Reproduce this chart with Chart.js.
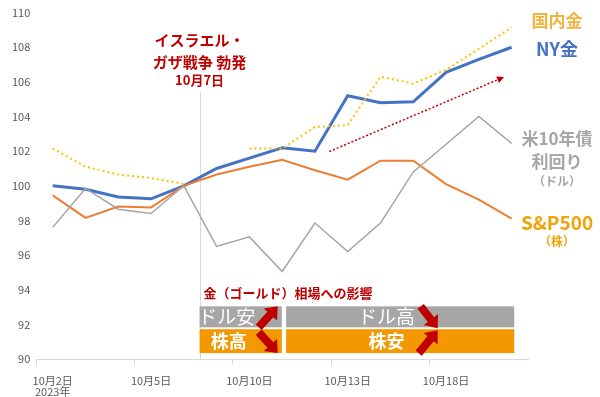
<!DOCTYPE html>
<html><head><meta charset="utf-8">
<script src="https://cdn.jsdelivr.net/npm/chart.js@4.4.0/dist/chart.umd.min.js"></script>
<style>html,body{margin:0;padding:0;background:#fff}</style>
</head><body>
<canvas id="c" width="600" height="397" style="width:600px;height:397px;display:block"></canvas>
<script>
// ---- data ----
const categories = ['10月2日','10月3日','10月4日','10月5日','10月6日','10月9日','10月10日','10月11日','10月12日','10月13日','10月16日','10月17日','10月18日','10月19日','10月20日'];
const nyGold       = [100.0, 99.8, 99.35, 99.25, 100.0, 101.0, 101.6, 102.2, 102.0, 105.2, 104.8, 104.85, 106.55, 107.3, 108.0];
const domesticGold = [102.15, 101.1, 100.65, 100.45, 100.1, null, 102.15, 102.15, 103.4, 103.5, 106.3, 105.9, 106.7, 107.9, 109.15];
const sp500        = [99.45, 98.15, 98.8, 98.75, 100.0, 100.65, 101.1, 101.5, 100.9, 100.35, 101.45, 101.45, 100.1, 99.2, 98.1];
const us10y        = [97.6, 99.85, 98.65, 98.4, 100.0, 96.5, 97.05, 95.05, 97.85, 96.2, 97.85, 100.8, 102.4, 104.0, 102.45];
const yMin = 90, yMax = 110, yStep = 2;
const yearLabel = '2023年';
const tickEvery = 3;

const FONT = "'Noto Sans CJK JP','Noto Sans',sans-serif";
const RED = '#C00000';

function arrow(ctx, x1, y1, x2, y2, shaft, headW, headL, color) {
  const dx = x2 - x1, dy = y2 - y1, L = Math.hypot(dx, dy);
  const ux = dx / L, uy = dy / L, nx = -uy, ny = ux;
  const bx = x2 - ux * headL, by = y2 - uy * headL;
  ctx.beginPath();
  ctx.moveTo(x1 + nx * shaft / 2, y1 + ny * shaft / 2);
  ctx.lineTo(bx + nx * shaft / 2, by + ny * shaft / 2);
  ctx.lineTo(bx + nx * headW / 2, by + ny * headW / 2);
  ctx.lineTo(x2, y2);
  ctx.lineTo(bx - nx * headW / 2, by - ny * headW / 2);
  ctx.lineTo(bx - nx * shaft / 2, by - ny * shaft / 2);
  ctx.lineTo(x1 - nx * shaft / 2, y1 - ny * shaft / 2);
  ctx.closePath();
  ctx.fillStyle = color;
  ctx.fill();
}

const annot = {
  id: 'annot',
  beforeDatasetsDraw(chart) {
    const {ctx, scales: {x, y}, chartArea} = chart;
    const ex = x.getPixelForValue(4.48);
    ctx.save();
    ctx.strokeStyle = '#D9D9D9';
    ctx.lineWidth = 1;
    ctx.beginPath();
    ctx.moveTo(Math.round(ex) + 0.5, y.getPixelForValue(105.4));
    ctx.lineTo(Math.round(ex) + 0.5, chartArea.bottom);
    ctx.stroke();
    ctx.restore();
  },
  afterDatasetsDraw(chart) {
    const {ctx, scales: {x, y}, chartArea} = chart;
    const px = v => x.getPixelForValue(v);
    const py = v => y.getPixelForValue(v);
    ctx.save();
    // event text
    ctx.fillStyle = RED;
    ctx.textAlign = 'center';
    ctx.textBaseline = 'middle';
    const ex = px(4.48);
    ctx.font = 'bold 15px ' + FONT;
    ctx.fillText('イスラエル・', ex, py(108.4));
    ctx.fillText('ガザ戦争 勃発', ex, py(107.13));
    ctx.font = 'bold 13px ' + FONT;
    ctx.fillText('10月7日', ex, py(106.1));

    // trend arrow (dotted)
    const tx1 = px(8.44), ty1 = py(101.98), tx2 = px(13.77), ty2 = py(106.28);
    ctx.strokeStyle = RED;
    ctx.lineWidth = 1.5;
    ctx.setLineDash([2, 2]);
    const ang = Math.atan2(ty2 - ty1, tx2 - tx1);
    ctx.beginPath();
    ctx.moveTo(tx1, ty1);
    ctx.lineTo(tx2 - Math.cos(ang) * 5, ty2 - Math.sin(ang) * 5);
    ctx.stroke();
    ctx.setLineDash([]);
    arrow(ctx, tx2 - Math.cos(ang) * 7, ty2 - Math.sin(ang) * 7, tx2, ty2, 0.1, 7, 7, RED);

    // impact panel
    ctx.textAlign = 'left';
    ctx.font = 'bold 13px ' + FONT;
    ctx.fillStyle = RED;
    ctx.fillText('金（ゴールド）相場への影響', px(4.6), py(93.78));

    const GRAY = '#A6A6A6', ORANGE = '#F39800';
    const rows = [{top: 93.04, bot: 91.83, color: GRAY}, {top: 91.72, bot: 90.34, color: ORANGE}];
    const cells = [{l: 4.48, r: 6.99}, {l: 7.12, r: 14.08}];
    rows.forEach(rw => cells.forEach(c => {
      ctx.fillStyle = rw.color;
      ctx.fillRect(px(c.l), py(rw.top), px(c.r) - px(c.l), py(rw.bot) - py(rw.top));
    }));
    const r1c = (py(93.04) + py(91.83)) / 2, r2c = (py(91.72) + py(90.34)) / 2;
    ctx.fillStyle = '#FFFFFF';
    ctx.textAlign = 'center';
    ctx.font = '19px ' + FONT;
    ctx.fillText('ドル安', px(5.31), r1c);
    ctx.fillText('ドル高', px(10.18), r1c);
    ctx.font = 'bold 18px ' + FONT;
    ctx.fillText('株高', px(5.37), r2c);
    ctx.fillText('株安', px(10.18), r2c);

    // block arrows
    const arrowCols = [6.56, 11.47];
    const r1t = py(93.04), r1b = py(91.83), r2t = py(91.72), r2b = py(90.34);
    let ax = px(arrowCols[0]);
    arrow(ctx, ax - 9, r1b, ax + 10, r1t, 8, 18, 11, RED);
    arrow(ctx, ax - 9, r2t + 3, ax + 10, r2b, 8, 18, 11, RED);
    ax = px(arrowCols[1]);
    arrow(ctx, ax - 8, r1t, ax + 9, r1b + 1, 8, 18, 11, RED);
    arrow(ctx, ax - 10, r2b, ax + 9, r2t + 1, 8, 18, 11, RED);

    ctx.restore();
  },
  afterDraw(chart) {
    const {ctx, scales: {y}, chartArea} = chart;
    const py = v => y.getPixelForValue(v);
    const cx = chartArea.right + 29;
    ctx.save();
    ctx.textAlign = 'center';
    ctx.textBaseline = 'middle';
    ctx.font = 'bold 17px ' + FONT;
    ctx.fillStyle = '#F2B33D';
    ctx.fillText('国内金', cx, py(109.54));
    ctx.font = 'bold 18px ' + FONT;
    ctx.fillStyle = '#4472C4';
    ctx.fillText('NY金', cx, py(107.88));
    ctx.fillStyle = '#A6A6A6';
    ctx.font = 'bold 17px ' + FONT;
    ctx.fillText('米10年債', cx, py(102.72));
    ctx.fillText('利回り', cx, py(101.4));
    ctx.font = 'bold 12px ' + FONT;
    ctx.fillText('（ドル）', cx, py(100.26));
    ctx.fillStyle = '#F0A30A';
    ctx.font = 'bold 19px ' + FONT;
    ctx.fillText('S&P500', cx, py(97.85));
    ctx.font = 'bold 12px ' + FONT;
    ctx.fillText('（株）', cx, py(96.76));
    ctx.restore();
  }
};

Chart.defaults.font.family = FONT;

new Chart(document.getElementById('c'), {
  type: 'line',
  data: {
    labels: categories,
    datasets: [
      {label: '米10年債利回り', data: us10y, borderColor: '#A5A5A5', borderWidth: 1.5},
      {label: 'S&P500', data: sp500, borderColor: '#ED7D31', borderWidth: 2},
      {label: '国内金', data: domesticGold, borderColor: '#FFC000', borderWidth: 2, borderDash: [2, 3], spanGaps: false},
      {label: 'NY金', data: nyGold, borderColor: '#4472C4', borderWidth: 3}
    ]
  },
  options: {
    responsive: false,
    animation: false,
    devicePixelRatio: 1,
    elements: {point: {radius: 0}, line: {tension: 0, fill: false}},
    layout: {padding: {left: 6, right: 72, top: 1, bottom: -10}},
    plugins: {legend: {display: false}, tooltip: {enabled: false}},
    scales: {
      x: {
        type: 'category',
        offset: true,
        border: {display: true, color: '#D9D9D9'},
        grid: {
          display: true, drawOnChartArea: false, drawTicks: true, tickLength: 6, offset: true,
          color: c => (c.index % tickEvery === 0 ? '#D9D9D9' : 'rgba(0,0,0,0)')
        },
        ticks: {
          autoSkip: false, maxRotation: 0, padding: 10, color: '#595959',
          font: {size: 11, lineHeight: 1.0},
          callback: function (v, i) {
            if (i % tickEvery !== 0) return '';
            const lab = categories[i];
            return i === 0 ? [lab, yearLabel] : lab;
          }
        }
      },
      y: {
        min: yMin, max: yMax,
        border: {display: false},
        grid: {display: false, drawTicks: false},
        ticks: {stepSize: yStep, padding: 6, color: '#595959', font: {size: 11}}
      }
    }
  },
  plugins: [annot]
});
</script>
</body></html>
